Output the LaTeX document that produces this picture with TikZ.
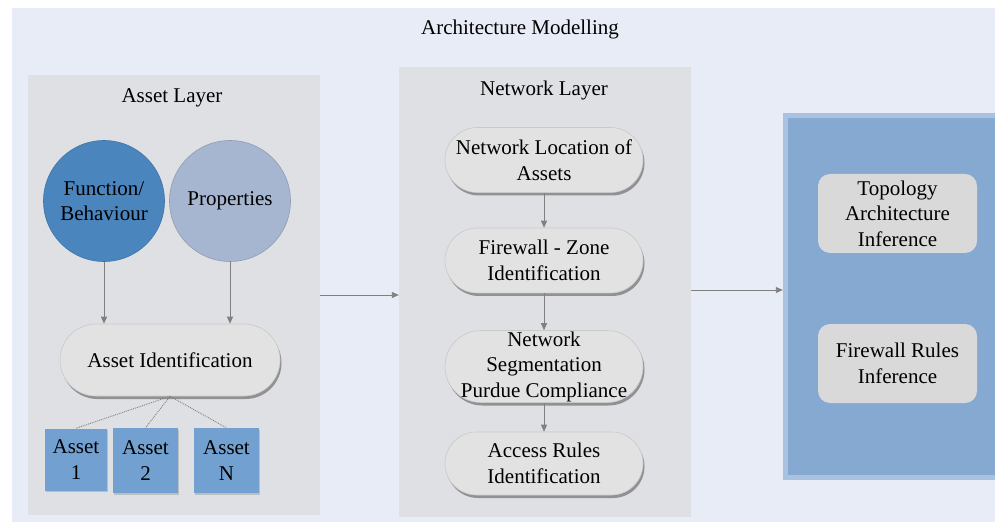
\documentclass[tikz,border=0pt]{standalone}
\usepackage{fontspec}
\setmainfont{Liberation Serif}
\usetikzlibrary{arrows.meta,shadows,shapes.misc,calc}

\definecolor{pagebg}{HTML}{E8ECF6}
\definecolor{panelgray}{HTML}{DFE0E4}
\definecolor{funcblue}{HTML}{4A85BD}
\definecolor{funcedge}{HTML}{3E74A6}
\definecolor{propblue}{HTML}{A6B6D0}
\definecolor{propedge}{HTML}{8F9DB6}
\definecolor{assetblue}{HTML}{72A0D0}
\definecolor{outblue}{HTML}{85A9D1}
\definecolor{outedge}{HTML}{A9C2DF}
\definecolor{pillgray}{HTML}{E2E2E2}
\definecolor{pilledge}{HTML}{C9C9C9}
\definecolor{boxgray}{HTML}{D9D9D9}
\definecolor{linkgray}{HTML}{808080}

\tikzset{
  panel/.style={rectangle, fill=panelgray, draw=none, inner sep=0pt},
  pill/.style={rounded rectangle, fill=pillgray, draw=pilledge, line width=0.6pt,
    inner sep=0pt, align=center,
    drop shadow={shadow xshift=1.5pt, shadow yshift=-3pt, fill=black, opacity=0.35}},
  disc/.style={circle, inner sep=0pt, minimum size=121pt, align=center, line width=0.6pt},
  assetbox/.style={rectangle, fill=assetblue, draw=none, inner sep=0pt, align=center,
    drop shadow={shadow xshift=1pt, shadow yshift=-1.5pt, fill=black, opacity=0.15}},
  outbox/.style={rectangle, rounded corners=12pt, fill=boxgray, draw=none, inner sep=0pt,
    align=center, minimum width=159pt, minimum height=79pt},
  arr/.style={draw=linkgray, line width=0.9pt, -{Triangle[width=6pt,length=7pt]}},
  link/.style={draw=linkgray, line width=0.9pt, densely dotted},
  lbl/.style={inner sep=0pt, align=center}
}

\begin{document}
\begin{tikzpicture}[x=1pt, y=-1pt, font=\fontsize{21}{25.5}\selectfont]
\useasboundingbox (0,0) rectangle (995,526);
\fill[white] (0,0) rectangle (995,526);
\fill[pagebg] (12,8) rectangle (995,522);

\node[lbl] (title) at (520,29) {Architecture Modelling};

% Asset layer
\node[panel, minimum width=292pt, minimum height=440pt] (assetpanel) at (174,295) {};
\node[lbl] (assettitle) at (172,98) {Asset Layer};
\node[disc, fill=funcblue, draw=funcedge] (func) at (104,201) {Function/\\Behaviour};
\node[disc, fill=propblue, draw=propedge] (prop) at (230,201) {Properties};
\node[pill, minimum width=220pt, minimum height=72pt] (aid) at (170,360) {Asset Identification};
\node[assetbox, minimum width=62pt, minimum height=62pt] (a1) at (76,459.5) {Asset\\1};
\node[assetbox, minimum width=65pt, minimum height=65pt] (a2) at (145.5,460.5) {Asset\\2};
\node[assetbox, minimum width=65pt, minimum height=65pt] (an) at (226.5,460.5) {Asset\\N};

\draw[arr] (func.south) -- (func.south |- aid.north);
\draw[arr] (prop.south) -- (prop.south |- aid.north);
\draw[link] (aid.south) -- (a1.north);
\draw[link] (aid.south) -- (a2.north);
\draw[link] (aid.south) -- (an.north);

% Network layer
\node[panel, minimum width=292pt, minimum height=450pt] (netpanel) at (545,292) {};
\node[lbl] (nettitle) at (544,90) {Network Layer};
\node[pill, minimum width=198pt, minimum height=65pt] (n1) at (544,160) {Network Location of\\Assets};
\node[pill, minimum width=198pt, minimum height=65pt] (n2) at (544,260.5) {Firewall - Zone\\Identification};
% the three-line label runs past the pill's rounded ends
\node[pill, minimum width=198pt, minimum height=72pt] (n3) at (544,366.5) {};
\node[lbl] (n3text) at (n3.center) {Network\\Segmentation\\Purdue Compliance};
\node[pill, minimum width=198pt, minimum height=63pt] (n4) at (544,463.5) {Access Rules\\Identification};

\draw[arr] (n1.south) -- (n2.north);
\draw[arr] (n2.south) -- (n3.north);
\draw[arr] (n3.south) -- (n4.north);

% Inference output
\node[rectangle, fill=outedge, draw=none, inner sep=0pt, minimum width=212pt, minimum height=367pt] (outpanel) at (889,296.5) {};
\fill[outblue] (788,118) rectangle (995,475);
\node[outbox] (topo) at (897.5,213.5) {Topology\\Architecture\\Inference};
\node[outbox] (fwr) at (897.5,363.5) {Firewall Rules\\Inference};

% Flow between layers
\draw[arr] (assetpanel.east) -- (assetpanel.east -| netpanel.west);
\draw[arr] ($(netpanel.east)+(0,-2)$) -- ($(netpanel.east -| outpanel.west)+(0,-2)$);
\end{tikzpicture}
\end{document}
